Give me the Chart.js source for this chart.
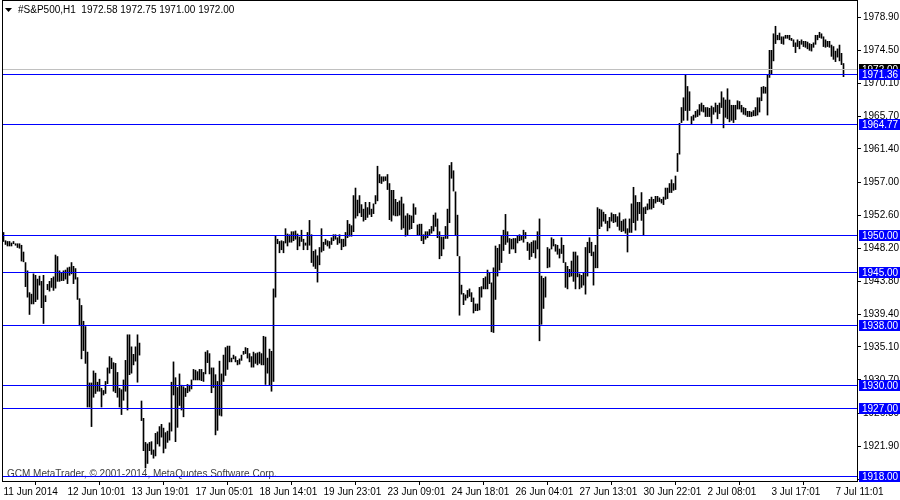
<!DOCTYPE html>
<html>
<head>
<meta charset="utf-8">
<script src="https://cdn.jsdelivr.net/npm/chart.js@4.4.0/dist/chart.umd.min.js"></script>
<style>
html, body { margin: 0; padding: 0; background: #fff; }
canvas { display: block; }
</style>
</head>
<body>
<canvas id="myChart" width="900" height="500"></canvas>
<script>
// H1 bars, high and low of each hour
var highs = [
    1950.3, 1949.2, 1949.1, 1949.1, 1948.9, 1949.1, 1948.8, 1948.8, 1948.8, 1948.6,
    1947.7, 1946.3, 1945.2, 1942.3, 1942.1, 1944.8, 1944.6, 1944.1, 1944.5, 1943.8,
    1944.6, 1941.9, 1943.4, 1943.8, 1944.2, 1944.4, 1947.3, 1947.1, 1945.2, 1945.0,
    1945.2, 1945.3, 1945.6, 1945.7, 1946.3, 1945.8, 1945.5, 1944.3, 1941.5, 1940.6,
    1938.5, 1937.8, 1934.4, 1930.3, 1930.3, 1931.9, 1931.6, 1930.4, 1930.8, 1929.6,
    1929.3, 1930.5, 1932.3, 1933.8, 1933.6, 1933.0, 1932.9, 1931.7, 1929.6, 1929.4,
    1930.7, 1933.3, 1936.7, 1936.7, 1935.1, 1934.1, 1935.1, 1936.7, 1935.6, 1927.9,
    1925.6, 1922.4, 1922.2, 1922.4, 1922.5, 1921.4, 1923.6, 1923.8, 1924.5, 1924.8,
    1924.3, 1923.7, 1923.9, 1925.0, 1930.4, 1933.1, 1931.0, 1929.7, 1931.5, 1930.0,
    1929.8, 1929.6, 1930.1, 1930.0, 1930.7, 1932.1, 1932.0, 1931.8, 1932.1, 1932.1,
    1931.7, 1934.4, 1934.6, 1934.2, 1932.3, 1932.3, 1931.4, 1930.5, 1933.2, 1931.5,
    1934.0, 1935.0, 1935.2, 1935.2, 1933.6, 1934.0, 1933.8, 1933.3, 1933.5, 1934.0,
    1934.5, 1935.0, 1934.9, 1934.2, 1933.8, 1934.4, 1934.2, 1934.3, 1934.4, 1934.2,
    1936.5, 1936.4, 1933.6, 1934.8, 1934.5, 1942.8, 1949.8, 1949.4, 1949.1, 1949.2,
    1949.1, 1950.8, 1950.1, 1950.0, 1950.4, 1950.4, 1950.5, 1950.1, 1949.7, 1950.6,
    1949.4, 1948.9, 1950.3, 1951.9, 1950.0, 1947.8, 1948.0, 1947.2, 1948.3, 1950.8,
    1949.0, 1949.4, 1949.2, 1949.1, 1949.6, 1950.0, 1950.0, 1949.6, 1950.0, 1949.4,
    1949.4, 1950.3, 1951.9, 1951.4, 1951.2, 1955.2, 1956.2, 1954.6, 1955.2, 1954.0,
    1953.4, 1954.3, 1953.6, 1954.3, 1953.4, 1954.1, 1955.2, 1959.1, 1958.0, 1957.7,
    1957.7, 1957.7, 1958.0, 1956.8, 1955.9, 1955.9, 1954.7, 1954.3, 1954.5, 1955.0,
    1954.1, 1952.5, 1952.8, 1952.6, 1952.5, 1954.1, 1953.6, 1951.3, 1951.4, 1951.4,
    1950.0, 1950.4, 1950.4, 1950.7, 1951.1, 1952.6, 1952.9, 1952.1, 1950.4, 1949.7,
    1949.7, 1951.1, 1953.4, 1959.2, 1959.6, 1958.5, 1955.7, 1952.6, 1947.1, 1943.3,
    1942.2, 1942.0, 1942.6, 1942.8, 1942.3, 1941.6, 1940.8, 1940.8, 1943.0, 1943.1,
    1944.2, 1944.4, 1945.3, 1945.0, 1943.6, 1945.6, 1948.5, 1948.2, 1948.7, 1949.9,
    1950.6, 1952.7, 1950.4, 1949.5, 1949.4, 1949.5, 1949.5, 1949.9, 1950.0, 1949.9,
    1950.6, 1950.3, 1949.0, 1948.8, 1949.0, 1949.2, 1949.2, 1950.4, 1952.1, 1944.5,
    1944.2, 1944.4, 1948.3, 1948.1, 1949.6, 1949.4, 1948.7, 1948.6, 1948.1, 1949.6,
    1948.6, 1946.3, 1945.8, 1945.4, 1946.5, 1947.7, 1947.7, 1947.2, 1944.8, 1944.6,
    1944.9, 1948.3, 1949.0, 1949.6, 1949.0, 1947.7, 1948.6, 1953.6, 1953.4, 1953.3,
    1953.0, 1952.7, 1951.8, 1952.3, 1952.9, 1952.7, 1952.7, 1952.4, 1952.9, 1951.8,
    1952.0, 1952.1, 1950.8, 1952.1, 1954.1, 1956.3, 1955.2, 1954.3, 1954.3, 1955.6,
    1953.6, 1953.7, 1954.1, 1954.7, 1955.0, 1954.7, 1955.1, 1955.1, 1954.9, 1954.7,
    1955.0, 1956.2, 1956.2, 1956.8, 1957.3, 1956.8, 1957.8, 1960.8, 1964.8, 1966.9,
    1968.2, 1971.3, 1969.7, 1969.0, 1965.7, 1965.9, 1966.4, 1966.6, 1967.3, 1967.5,
    1967.2, 1966.9, 1966.9, 1966.8, 1967.1, 1966.9, 1967.5, 1967.2, 1967.5, 1969.0,
    1968.2, 1967.9, 1969.4, 1967.9, 1967.2, 1967.2, 1967.2, 1967.8, 1967.7, 1967.2,
    1966.9, 1966.8, 1966.4, 1966.4, 1966.3, 1966.5, 1966.9, 1968.2, 1968.2, 1969.6,
    1969.7, 1969.6, 1971.3, 1974.5, 1974.5, 1976.7, 1977.7, 1976.5, 1976.8, 1976.3,
    1976.3, 1976.5, 1976.5, 1976.5, 1976.1, 1975.9, 1975.5, 1975.9, 1975.7, 1975.9,
    1975.7, 1975.7, 1975.6, 1975.4, 1975.3, 1975.5, 1976.5, 1976.5, 1976.9, 1976.7,
    1976.3, 1975.9, 1975.7, 1975.7, 1975.2, 1975.0, 1974.4, 1974.7, 1975.2, 1974.1,
    1972.75
];
var lows = [
    1949.1, 1948.7, 1948.5, 1948.5, 1948.5, 1948.8, 1948.6, 1948.3, 1948.2, 1946.5,
    1946.4, 1943.1, 1941.7, 1939.4, 1940.8, 1940.8, 1941.1, 1941.4, 1943.3, 1940.3,
    1938.2, 1941.1, 1942.7, 1942.5, 1943.0, 1942.6, 1942.9, 1943.8, 1943.8, 1943.9,
    1943.9, 1944.1, 1943.5, 1944.6, 1944.8, 1943.5, 1944.1, 1941.4, 1937.9, 1933.5,
    1934.6, 1932.9, 1927.1, 1927.1, 1924.5, 1928.4, 1928.9, 1929.2, 1929.2, 1927.1,
    1928.7, 1928.9, 1930.2, 1931.6, 1932.2, 1929.2, 1929.0, 1928.4, 1927.1, 1926.1,
    1928.0, 1929.2, 1926.7, 1931.4, 1931.6, 1932.7, 1933.2, 1930.4, 1934.0, 1925.3,
    1921.3, 1919.0, 1919.6, 1921.3, 1920.8, 1920.3, 1920.6, 1922.2, 1921.9, 1923.1,
    1921.0, 1921.6, 1922.4, 1922.7, 1923.9, 1928.7, 1922.5, 1924.4, 1927.3, 1926.7,
    1925.8, 1928.5, 1929.0, 1929.2, 1929.5, 1930.7, 1930.7, 1930.7, 1930.7, 1930.6,
    1930.5, 1931.5, 1933.0, 1931.5, 1929.0, 1929.7, 1923.4, 1924.0, 1926.0, 1925.9,
    1930.5, 1931.3, 1932.1, 1933.1, 1933.1, 1933.5, 1933.1, 1932.7, 1932.8, 1933.3,
    1934.1, 1934.2, 1933.6, 1933.1, 1932.4, 1932.4, 1932.9, 1932.7, 1932.9, 1932.7,
    1932.7, 1930.1, 1931.6, 1930.0, 1929.2, 1930.5, 1941.7, 1948.8, 1947.6, 1948.0,
    1947.6, 1948.9, 1948.5, 1949.0, 1949.0, 1949.2, 1949.4, 1948.0, 1948.5, 1949.1,
    1948.0, 1948.6, 1948.0, 1948.6, 1946.3, 1945.8, 1945.5, 1943.7, 1946.0, 1947.7,
    1947.9, 1948.7, 1948.5, 1948.2, 1948.7, 1949.2, 1949.4, 1948.7, 1948.9, 1948.0,
    1948.4, 1948.5, 1949.6, 1949.8, 1949.8, 1950.4, 1952.2, 1952.5, 1952.9, 1952.4,
    1951.8, 1952.0, 1952.3, 1952.7, 1952.4, 1952.8, 1954.1, 1954.5, 1956.9, 1956.8,
    1957.1, 1957.2, 1956.0, 1952.0, 1951.8, 1952.6, 1952.5, 1952.5, 1952.6, 1950.7,
    1950.9, 1949.8, 1950.0, 1950.7, 1950.8, 1951.6, 1952.7, 1950.0, 1950.0, 1949.2,
    1948.8, 1949.4, 1949.6, 1950.0, 1950.2, 1950.5, 1951.1, 1949.6, 1946.8, 1947.2,
    1948.1, 1949.5, 1949.5, 1951.6, 1957.5, 1955.8, 1950.0, 1947.2, 1939.3, 1942.1,
    1940.7, 1941.3, 1941.6, 1941.8, 1941.1, 1939.6, 1939.9, 1939.9, 1940.0, 1941.7,
    1942.8, 1942.8, 1942.8, 1943.5, 1937.1, 1937.0, 1941.4, 1944.5, 1945.3, 1946.3,
    1947.9, 1948.7, 1949.0, 1947.5, 1948.1, 1948.1, 1947.6, 1948.9, 1949.2, 1949.3,
    1949.0, 1949.5, 1947.9, 1946.7, 1947.1, 1947.6, 1946.9, 1948.1, 1935.9, 1938.1,
    1940.2, 1941.7, 1945.6, 1945.7, 1948.1, 1948.5, 1947.8, 1947.4, 1946.9, 1947.5,
    1946.3, 1943.0, 1942.8, 1944.4, 1944.5, 1943.8, 1942.8, 1944.4, 1942.8, 1943.0,
    1943.3, 1942.1, 1944.5, 1947.6, 1947.2, 1943.3, 1945.6, 1945.6, 1950.8, 1951.1,
    1951.8, 1951.5, 1950.5, 1950.9, 1951.8, 1951.6, 1951.7, 1951.1, 1950.6, 1950.4,
    1950.5, 1950.2, 1947.7, 1950.3, 1950.3, 1951.6, 1950.6, 1951.9, 1952.8, 1951.9,
    1950.0, 1952.8, 1953.3, 1953.4, 1953.4, 1953.6, 1954.2, 1954.4, 1954.4, 1954.2,
    1954.0, 1954.7, 1954.8, 1955.6, 1955.6, 1955.9, 1956.0, 1958.4, 1960.7, 1964.9,
    1965.2, 1966.5, 1965.2, 1966.5, 1964.7, 1965.2, 1965.6, 1965.7, 1965.9, 1966.4,
    1966.3, 1965.7, 1965.7, 1965.7, 1964.8, 1966.0, 1966.3, 1965.4, 1966.1, 1966.9,
    1964.2, 1965.6, 1965.4, 1965.0, 1965.2, 1964.9, 1965.3, 1966.7, 1966.7, 1966.3,
    1966.0, 1965.9, 1965.7, 1965.7, 1965.7, 1965.8, 1965.8, 1965.9, 1966.3, 1967.8,
    1968.8, 1968.8, 1965.9, 1970.9, 1971.3, 1973.1, 1975.4, 1975.9, 1975.9, 1975.4,
    1975.3, 1976.1, 1976.1, 1975.9, 1975.8, 1975.0, 1974.2, 1975.0, 1974.7, 1975.3,
    1975.0, 1974.9, 1974.7, 1974.5, 1974.4, 1974.9, 1975.3, 1975.9, 1976.2, 1976.1,
    1975.0, 1974.9, 1975.0, 1974.9, 1973.7, 1973.3, 1973.0, 1973.6, 1973.1, 1972.6,
    1971.00
];
// one time label every 32 bars
var timeLabels = ['11 Jun 2014', '12 Jun 10:01', '13 Jun 19:01', '17 Jun 05:01', '18 Jun 14:01',
    '19 Jun 23:01', '23 Jun 09:01', '24 Jun 18:01', '26 Jun 04:01', '27 Jun 13:01',
    '30 Jun 22:01', '2 Jul 08:01', '3 Jul 17:01', '7 Jul 11:01'];
var priceTicks = [1978.90, 1974.50, 1970.10, 1965.70, 1961.40, 1957.00, 1952.60, 1948.20,
    1943.80, 1939.40, 1935.10, 1930.70, 1926.30, 1921.90, 1917.50];
var levels = [1971.36, 1964.77, 1950.00, 1945.00, 1938.00, 1930.00, 1927.00, 1918.00];
var bidPrice = 1972.00;
var lastOHLC = ['1972.58', '1972.75', '1971.00', '1972.00'];

var FONT = "'Liberation Sans', Arial, sans-serif";
var LABEL_EVERY = 32;

var bars = highs.map(function(h, i) {
    return { x: i, y: [lows[i], h] };
});

var mtOverlay = {
    id: 'mtOverlay',
    beforeDatasetsDraw: function(chart) {
        var ctx = chart.ctx, a = chart.chartArea;
        ctx.save();
        ctx.font = '10px ' + FONT;
        ctx.fillStyle = '#404040';
        ctx.textBaseline = 'middle';
        ctx.fillText('GCM MetaTrader, \u00a9 2001-2014, MetaQuotes Software Corp.', 7, a.bottom - 7);
        ctx.restore();
    },
    afterDatasetsDraw: function(chart) {
        var ctx = chart.ctx, a = chart.chartArea, y = chart.scales.y;
        ctx.save();
        ctx.fillStyle = '#c0c0c0';
        ctx.fillRect(a.left, Math.round(y.getPixelForValue(bidPrice)), a.right - a.left, 1);
        ctx.fillStyle = '#0000ff';
        levels.forEach(function(v) {
            ctx.fillRect(a.left, Math.round(y.getPixelForValue(v)), a.right - a.left, 1);
        });
        ctx.restore();
    },
    afterDraw: function(chart) {
        var ctx = chart.ctx, a = chart.chartArea, y = chart.scales.y;
        ctx.save();
        // frame left and top
        ctx.fillStyle = '#000';
        ctx.fillRect(a.left, 0, 1, a.bottom);
        ctx.fillRect(a.left, 0, a.right - a.left, 1);

        ctx.font = '10px ' + FONT;
        ctx.textBaseline = 'middle';
        function box(v, bg) {
            var py = Math.round(y.getPixelForValue(v));
            ctx.fillStyle = bg;
            ctx.fillRect(a.right + 2, py - 5, 41, 11);
            ctx.fillStyle = '#fff';
            ctx.fillText(v.toFixed(2), a.right + 5, py + 1);
        }
        box(bidPrice, '#000');
        levels.forEach(function(v) { box(v, '#0000ff'); });

        // title
        ctx.fillStyle = '#000';
        ctx.beginPath();
        ctx.moveTo(5, 8); ctx.lineTo(12, 8); ctx.lineTo(8.5, 12); ctx.closePath();
        ctx.fill();
        ctx.fillText('#S&P500,H1  ' + lastOHLC.join(' '), 18, 10);
        ctx.restore();
    }
};

var ctx = document.getElementById('myChart').getContext('2d');
var chart = new Chart(ctx, {
    type: 'bar',
    data: {
        datasets: [{
            data: bars,
            backgroundColor: '#000',
            borderWidth: 0,
            barThickness: 1
        }]
    },
    options: {
        responsive: false,
        animation: false,
        events: [],
        layout: { padding: { left: 2, top: 0, right: 0, bottom: 0 } },
        plugins: { legend: { display: false }, tooltip: { enabled: false } },
        scales: {
            x: {
                type: 'linear',
                min: -0.75,
                max: 426.75,
                offset: false,
                afterBuildTicks: function(scale) {
                    scale.ticks = timeLabels.map(function(t, i) { return { value: i * LABEL_EVERY }; });
                },
                afterFit: function(scale) {
                    scale.height = 19;
                    scale.paddingLeft = 0;
                    scale.paddingRight = 0;
                },
                grid: { drawOnChartArea: false, drawTicks: true, tickLength: 4, color: '#000' },
                border: { display: true, color: '#000' },
                ticks: {
                    autoSkip: false,
                    maxRotation: 0,
                    align: 'start',
                    padding: 1,
                    color: '#000',
                    font: { family: FONT, size: 10 },
                    callback: function(v) { return timeLabels[v / LABEL_EVERY]; }
                }
            },
            y: {
                position: 'right',
                min: 1917.27,
                max: 1981.19,
                afterBuildTicks: function(scale) {
                    scale.ticks = priceTicks.map(function(v) { return { value: v }; });
                },
                afterFit: function(scale) {
                    scale.width = 43;
                    scale.paddingTop = 0;
                    scale.paddingBottom = 0;
                },
                grid: { drawOnChartArea: false, drawTicks: true, tickLength: 4, color: '#000' },
                border: { display: true, color: '#000' },
                ticks: {
                    padding: 2,
                    color: '#000',
                    font: { family: FONT, size: 10 },
                    callback: function(v) { return v.toFixed(2); }
                }
            }
        }
    },
    plugins: [mtOverlay]
});
</script>
</body>
</html>
